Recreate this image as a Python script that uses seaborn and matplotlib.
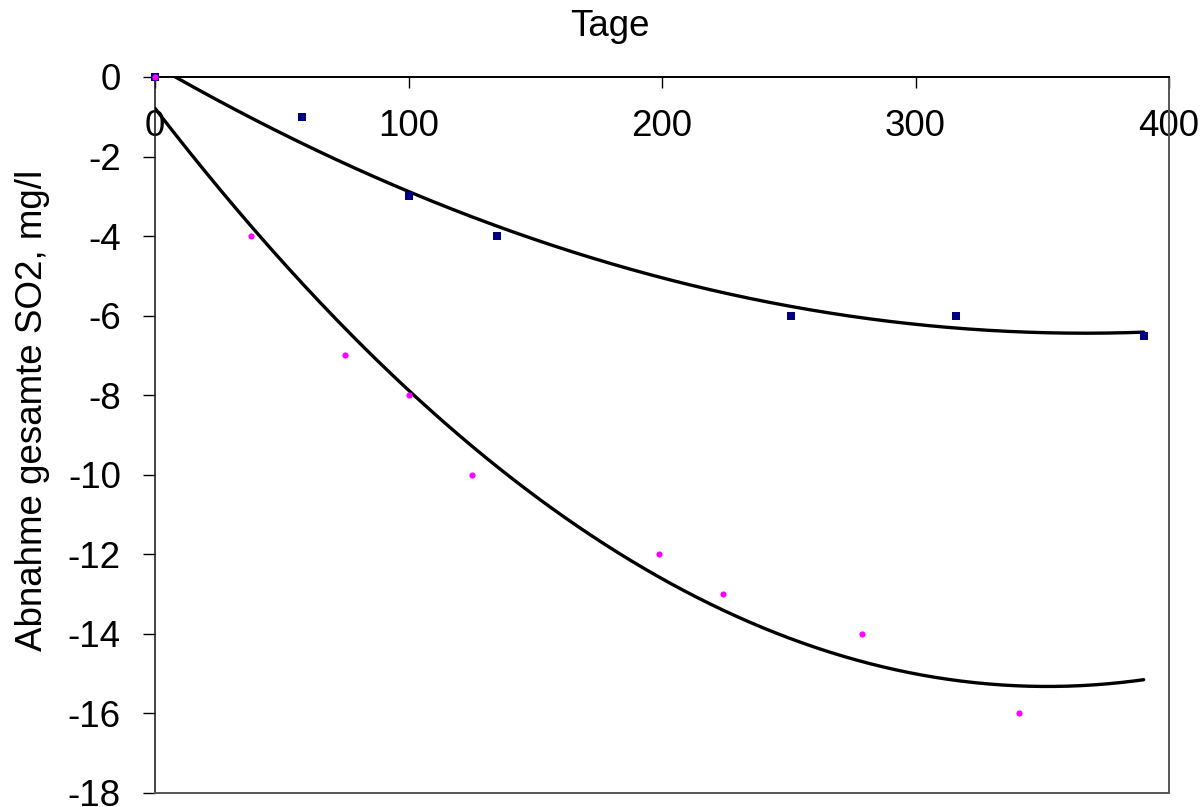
import numpy as np
import pandas as pd
import matplotlib
matplotlib.use("Agg")
import matplotlib.pyplot as plt
import seaborn as sns

# Data
days_a = [0, 58, 100, 135, 251, 316, 390]
so2_a = [0, -1, -3, -4, -6, -6, -6.5]
days_b = [0, 38, 75, 100, 125, 199, 224, 279, 341]
so2_b = [0, -4, -7, -8, -10, -12, -13, -14, -16]
x_ticks = [0, 100, 200, 300, 400]
y_ticks = list(range(0, -19, -2))

sns.set_theme(style="white")
plt.rcParams["font.family"] = ["Liberation Sans", "DejaVu Sans"]
plt.rcParams["axes.unicode_minus"] = False

W, H = 1202, 807
fig = plt.figure(figsize=(W / 100, H / 100), dpi=100)
ax = fig.add_axes([155 / W, 1 - 793 / H, (1169 - 155) / W, (793 - 77) / H])

# Polynomial (order 2) trend lines, as in the spreadsheet chart
grid = np.linspace(0, 390, 300)
ca = np.polyfit(days_a, so2_a, 2)
cb = np.polyfit(days_b, so2_b, 2)
trend = pd.DataFrame({"x": grid, "a": np.polyval(ca, grid), "b": np.polyval(cb, grid)})
sns.lineplot(data=trend, x="x", y="a", color="black", lw=2.4, ax=ax, zorder=3)
sns.lineplot(data=trend, x="x", y="b", color="black", lw=2.4, ax=ax, zorder=3)

sns.scatterplot(x=days_a, y=so2_a, marker="s", color="#000080", s=34, edgecolor="#000080",
                linewidth=0, ax=ax, zorder=4, clip_on=False)
sns.scatterplot(x=days_b, y=so2_b, marker="o", color="#FF00FF", s=20, edgecolor="#FF00FF",
                linewidth=0, ax=ax, zorder=5, clip_on=False)

ax.set_xlim(0, 400)
ax.set_ylim(-18, 0)
ax.set_xticks(x_ticks)
ax.set_yticks(y_ticks)
ax.set_xlabel("")
ax.set_ylabel("")

ax.tick_params(axis="x", top=True, bottom=False, labeltop=True, labelbottom=False,
               direction="in", length=8, width=1, color="black", pad=-48,
               labelsize=26.5, labelcolor="black")
ax.tick_params(axis="y", left=True, direction="out", length=8.5, width=1, color="black",
               pad=16, labelsize=26.5, labelcolor="black")

for side in ["top", "left", "right", "bottom"]:
    ax.spines[side].set_visible(True)
ax.spines["top"].set_color("black")
ax.spines["top"].set_linewidth(1.4)
ax.spines["left"].set_color("#222222")
ax.spines["left"].set_linewidth(1.2)
ax.spines["right"].set_color("#555555")
ax.spines["right"].set_linewidth(1.4)
ax.spines["bottom"].set_color("#555555")
ax.spines["bottom"].set_linewidth(1.4)

fig.text(610 / W, 1 - 27 / H, "Tage", ha="center", va="center", fontsize=26.5, color="black")
fig.text(33 / W, 1 - 410 / H, "Abnahme gesamte SO2, mg/l", ha="center", va="center",
         rotation=90, fontsize=26.5, color="black")

fig.savefig("out.png", dpi=100, facecolor="white")
